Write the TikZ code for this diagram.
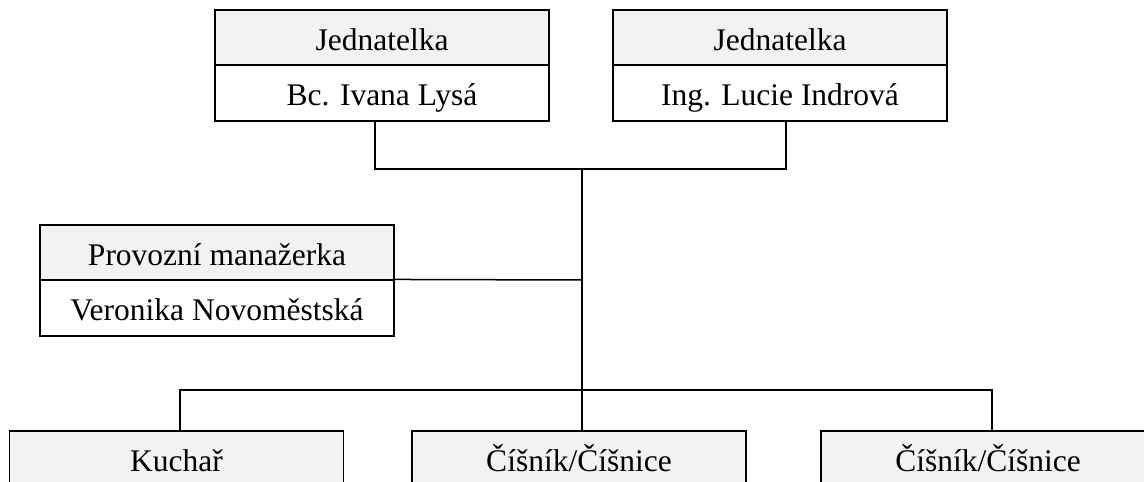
\documentclass[tikz,border=0pt]{standalone}
\usepackage{fontspec}
\setmainfont{Liberation Serif}
\definecolor{headgrey}{HTML}{F2F2F2}
\begin{document}
\begin{tikzpicture}[x=1pt,y=-1pt,
  box/.style={draw=black,line width=1.6pt,minimum width=334pt,minimum height=55.5pt,inner sep=0pt,
    text height=25pt,text depth=0pt,font=\fontsize{31.5}{36}\selectfont},
  head/.style={box,fill=headgrey},
  body/.style={box,fill=white},
  link/.style={draw=black,line width=1.5pt}]
\useasboundingbox (0,0) rectangle (1144,482);
\coordinate (j1) at (375,169);
\coordinate (j2) at (786,169);
\coordinate (hub) at (582,169);
\coordinate (mid) at (582,280);
\coordinate (bl) at (180,390);
\coordinate (br) at (992,390);
% top boxes
\node[head] (tl1) at (382,38) {Jednatelka};
\node[body] (tl2) at (382,93) {Bc. Ivana Lysá};
\node[head] (tr1) at (780,38) {Jednatelka};
\node[body] (tr2) at (780,93) {Ing. Lucie Indrová};
% middle box
\node[head,minimum width=354pt] (pm1) at (217,252.5) {Provozní manažerka};
\node[body,minimum width=354pt] (pm2) at (217,308) {Veronika Novoměstská};
% bottom boxes
\node[head] (b1) at (176.5,458.75) {Kuchař};
\node[head] (b2) at (579,458.75) {Číšník/Číšnice};
\node[head] (b3) at (988,458.75) {Číšník/Číšnice};
% lines
\draw[link] (j1 |- tl2.south) -- (j1) -- (j2) -- (j2 |- tr2.south);
\draw[link] (hub) -- (hub |- b2.north);
\draw[link] (pm2.north east) -- (mid);
\draw[link] (bl |- b1.north) -- (bl) -- (br) -- (br |- b3.north);
\end{tikzpicture}
\end{document}
